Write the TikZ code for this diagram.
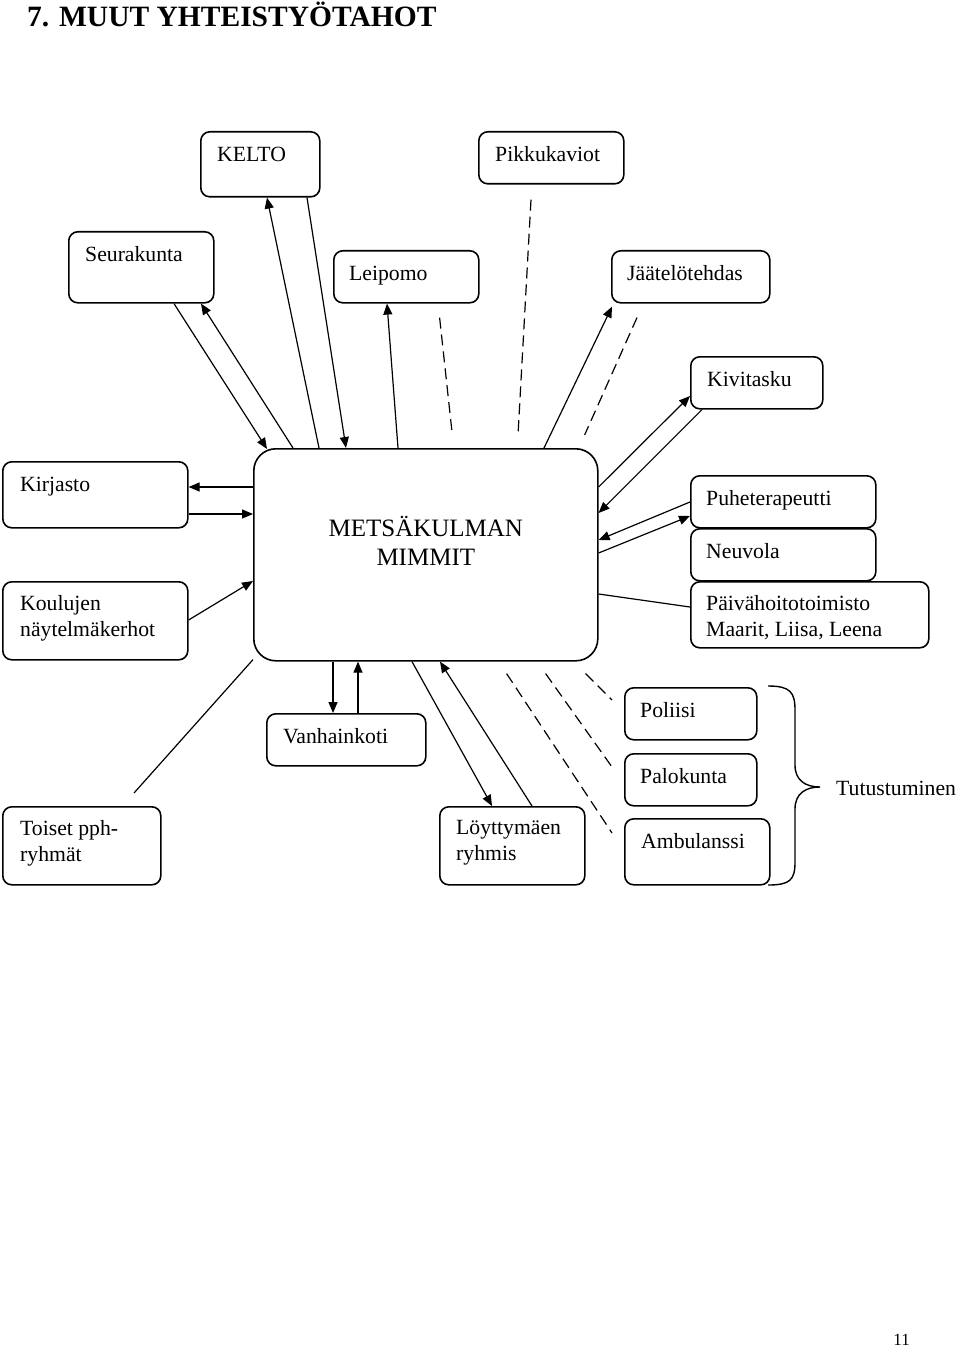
\documentclass[tikz,border=0pt]{standalone}
\usepackage{fontspec}
\setmainfont{Liberation Serif}
\usetikzlibrary{arrows.meta}

\tikzset{
  box/.style={draw, line width=1.6pt, rounded corners=9pt, anchor=north west, inner sep=0pt},
  boxtext/.style={anchor=north west, inner sep=0pt, align=left,
    font=\fontsize{21.7}{26}\selectfont, execute at begin node={\rule{0pt}{16pt}}},
  conn/.style={line width=1.2pt},
  connarr/.style={conn, -{Triangle[length=11pt,width=9pt]}},
  dashline/.style={line width=1.2pt, dash pattern=on 11pt off 6pt},
}

\begin{document}
\begin{tikzpicture}[x=1pt, y=-1pt]
\useasboundingbox (0,0) rectangle (960,1348);

% otsikko
\node[anchor=base west, inner sep=0pt, font=\fontsize{29.5}{32}\selectfont\bfseries] (otsikko) at (27,27) {7. MUUT YHTEISTYÖTAHOT};

% keskus
\node[box, rounded corners=22pt, minimum width=344, minimum height=212] (mimmit) at (253,448) {};
\node[anchor=north, inner sep=0pt, align=center, font=\fontsize{25}{29}\selectfont,
  execute at begin node={\rule{0pt}{22pt}}] (mimmit-t) at ([yshift=39]mimmit.center) {METSÄKULMAN\\MIMMIT};

% laatikot
\node[box, minimum width=119, minimum height=65] (kelto) at (200,131) {};
\node[boxtext] (kelto-t) at ([xshift=17,yshift=-14]kelto.north west) {KELTO};
\node[box, minimum width=145, minimum height=52] (pikku) at (478,131) {};
\node[boxtext] (pikku-t) at ([xshift=17,yshift=-14]pikku.north west) {Pikkukaviot};
\node[box, minimum width=145, minimum height=71] (seura) at (68,231) {};
\node[boxtext] (seura-t) at ([xshift=17,yshift=-14]seura.north west) {Seurakunta};
\node[box, minimum width=145, minimum height=52] (leipomo) at (333,250) {};
\node[boxtext] (leipomo-t) at ([xshift=16,yshift=-14]leipomo.north west) {Leipomo};
\node[box, minimum width=158, minimum height=52] (jaatelo) at (611,250) {};
\node[boxtext] (jaatelo-t) at ([xshift=16,yshift=-14]jaatelo.north west) {Jäätelötehdas};
\node[box, minimum width=132, minimum height=52] (kivi) at (690,356) {};
\node[boxtext] (kivi-t) at ([xshift=17,yshift=-14]kivi.north west) {Kivitasku};
\node[box, minimum width=185, minimum height=66] (kirjasto) at (2,461) {};
\node[boxtext] (kirjasto-t) at ([xshift=18,yshift=-14]kirjasto.north west) {Kirjasto};
\node[box, minimum width=185, minimum height=78] (koulu) at (2,581) {};
\node[boxtext] (koulu-t) at ([xshift=18,yshift=-14]koulu.north west) {Koulujen\\näytelmäkerhot};
\node[box, minimum width=185, minimum height=52] (puhe) at (690,475) {};
\node[boxtext] (puhe-t) at ([xshift=16,yshift=-14]puhe.north west) {Puheterapeutti};
\node[box, minimum width=185, minimum height=52] (neuvola) at (690,528) {};
\node[boxtext] (neuvola-t) at ([xshift=16,yshift=-14]neuvola.north west) {Neuvola};
\node[box, minimum width=238, minimum height=66] (paiva) at (690,581) {};
\node[boxtext] (paiva-t) at ([xshift=16,yshift=-14]paiva.north west) {Päivähoitotoimisto\\Maarit, Liisa, Leena};
\node[box, minimum width=159, minimum height=52] (vanha) at (266,713) {};
\node[boxtext] (vanha-t) at ([xshift=17,yshift=-14]vanha.north west) {Vanhainkoti};
\node[box, minimum width=158, minimum height=78] (toiset) at (2,806) {};
\node[boxtext] (toiset-t) at ([xshift=18,yshift=-14]toiset.north west) {Toiset pph-\\ryhmät};
\node[box, minimum width=145, minimum height=78] (loyt) at (439,806) {};
\node[boxtext] (loyt-t) at ([xshift=17,yshift=-14]loyt.north west) {Löyttymäen\\ryhmis};
\node[box, minimum width=132, minimum height=52] (poliisi) at (624,687) {};
\node[boxtext] (poliisi-t) at ([xshift=16,yshift=-14]poliisi.north west) {Poliisi};
\node[box, minimum width=132, minimum height=52] (palo) at (624,753) {};
\node[boxtext] (palo-t) at ([xshift=16,yshift=-14]palo.north west) {Palokunta};
\node[box, minimum width=145, minimum height=66] (ambu) at (624,818) {};
\node[boxtext] (ambu-t) at ([xshift=17,yshift=-14]ambu.north west) {Ambulanssi};

% yhteydet ylös
\draw[connarr] ([xshift=106]seura.south west) -- ([xshift=14,yshift=-1]mimmit.north west);
\draw[connarr] ([xshift=40]mimmit.north west) -- ([xshift=133]seura.south west);
\draw[connarr] ([xshift=66]mimmit.north west) -- ([xshift=67]kelto.south west);
\draw[connarr] ([xshift=107]kelto.south west) -- ([xshift=93]mimmit.north west);
\draw[connarr] ([xshift=145]mimmit.north west) -- ([xshift=54]leipomo.south west);
\draw[dashline] ([xshift=-40,yshift=-14]leipomo.south east) -- ([xshift=199,yshift=16]mimmit.north west);
\draw[dashline] ([xshift=53,yshift=-15]pikku.south west) -- ([xshift=265,yshift=13]mimmit.north west);
\draw[connarr] ([xshift=291]mimmit.north west) -- ([xshift=1,yshift=-3]jaatelo.south west);
\draw[dashline] ([xshift=26,yshift=-14]jaatelo.south west) -- ([xshift=-14,yshift=13]mimmit.north east);

% oikea puoli
\draw[connarr] ([yshift=-39]mimmit.north east) -- ([yshift=-40]kivi.north west);
\draw[connarr] ([xshift=12]kivi.south west) -- ([yshift=-65]mimmit.north east);
\draw[connarr] ([yshift=-27]puhe.north west) -- ([yshift=-92]mimmit.north east);
\draw[connarr] ([yshift=-105]mimmit.north east) -- ([yshift=-41]puhe.north west);
\draw[conn] ([yshift=-146]mimmit.north east) -- ([yshift=-26]paiva.north west);

% vasen puoli
\draw[connarr] ([yshift=-39]mimmit.north west) -- ([yshift=-26]kirjasto.north east);
\draw[connarr] ([yshift=-53]kirjasto.north east) -- ([yshift=-66]mimmit.north west);
\draw[connarr] ([yshift=-39]koulu.north east) -- ([yshift=-133]mimmit.north west);

% alas
\draw[conn] ([yshift=2]mimmit.south west) -- ([xshift=132,yshift=13]toiset.north west);
\draw[connarr] ([xshift=80]mimmit.south west) -- ([xshift=67]vanha.north west);
\draw[connarr] ([xshift=92]vanha.north west) -- ([xshift=105]mimmit.south west);
\draw[connarr] ([xshift=159]mimmit.south west) -- ([xshift=53]loyt.north west);
\draw[connarr] ([xshift=93]loyt.north west) -- ([xshift=187]mimmit.south west);
\draw[dashline] ([xshift=-13,yshift=-12]mimmit.south east) -- ([xshift=-12,yshift=-13]poliisi.north west);
\draw[dashline] ([xshift=-53,yshift=-12]mimmit.south east) -- ([xshift=-12,yshift=-14]palo.north west);
\draw[dashline] ([xshift=-92,yshift=-12]mimmit.south east) -- ([xshift=-12,yshift=-15]ambu.north west);

% sulje
\draw[line width=1.4pt] (768,686) .. controls (790,686) and (795,692) .. (795,710) -- (795,765)
  .. controls (795,780) and (805,787) .. (820,787) .. controls (805,787) and (795,794) .. (795,809)
  -- (795,862) .. controls (795,880) and (790,885) .. (768,885);
\node[anchor=base west, inner sep=0pt, font=\fontsize{21.7}{26}\selectfont] (tutus) at (836,795) {Tutustuminen};

% sivunumero
\node[anchor=base east, inner sep=0pt, font=\fontsize{17}{20}\selectfont] (sivu) at (910,1345) {11};
\end{tikzpicture}
\end{document}
